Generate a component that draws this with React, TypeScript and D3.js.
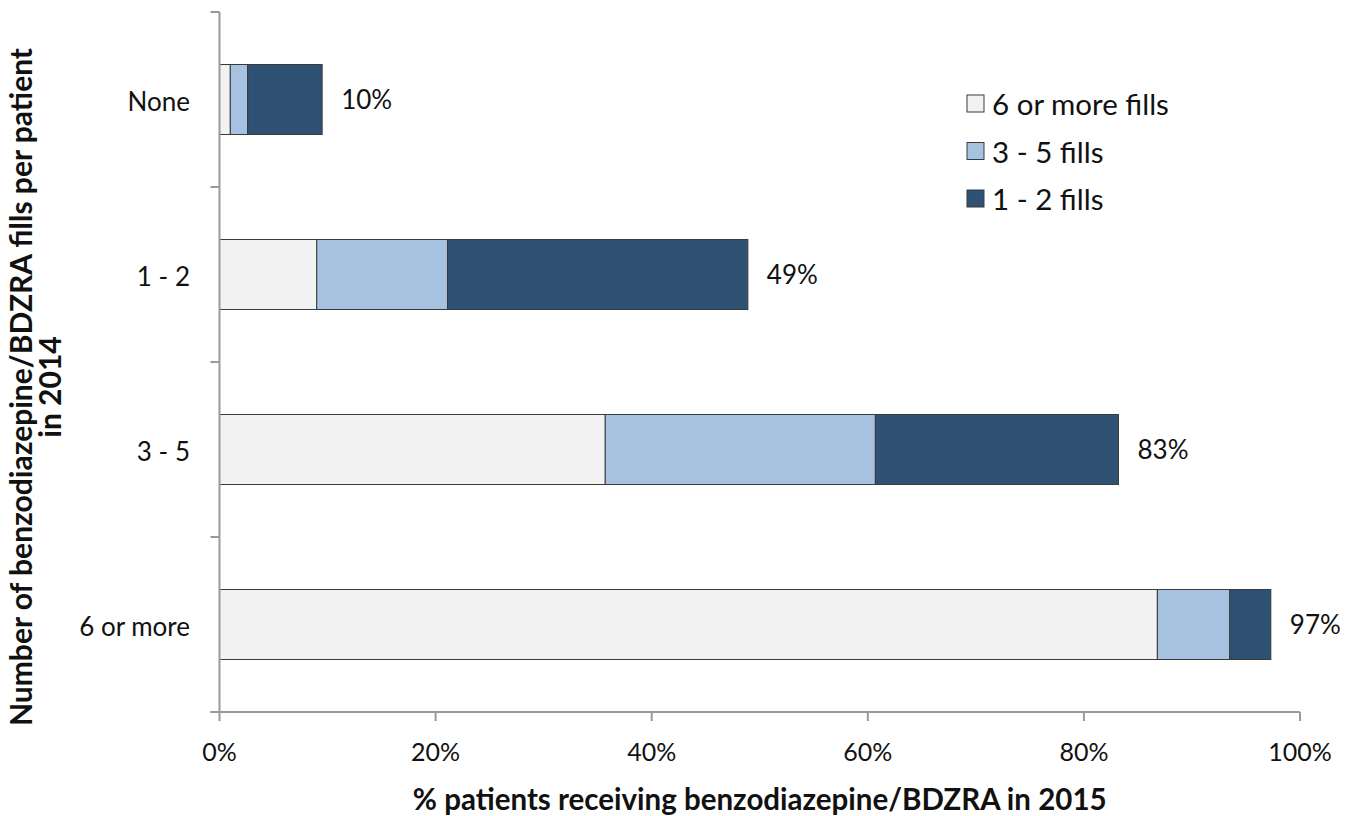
import { useEffect, useRef } from 'react'
import * as d3 from 'd3'

const categories = ['None', '1 - 2', '3 - 5', '6 or more']
const seriesNames = ['6 or more fills', '3 - 5 fills', '1 - 2 fills']
const sixPlus = [1.0, 9.0, 35.7, 86.8]
const threeToFive = [1.6, 12.1, 25.0, 6.7]
const oneToTwo = [6.9, 27.8, 22.5, 3.8]
const totalLabels = ['10%', '49%', '83%', '97%']
const xTicks = [0, 20, 40, 60, 80, 100]

const COLORS = ['#f2f2f2', '#a7c2e1', '#2f5173']
const FONT = 'Lato, "Open Sans", sans-serif'

export default function App() {
  const svgRef = useRef<SVGSVGElement | null>(null)

  useEffect(() => {
    const el = svgRef.current
    if (!el) return
    const svg = d3.select(el)
    svg.selectAll('*').remove()

    const left = 219.5
    const right = 1300
    const top = 12
    const bottom = 712

    const x = d3.scaleLinear().domain([0, 100]).range([left, right])
    const y = d3.scaleBand().domain(categories).range([top, bottom]).padding(0.6).paddingOuter(0.3)

    const rows = categories.map((c, i) => ({
      cat: c,
      vals: [sixPlus[i], threeToFive[i], oneToTwo[i]],
    }))

    // stacked bars
    rows.forEach((r, i) => {
      let acc = 0
      r.vals.forEach((v, k) => {
        svg
          .append('rect')
          .attr('x', x(acc))
          .attr('y', y(r.cat)!)
          .attr('width', x(acc + v) - x(acc))
          .attr('height', y.bandwidth())
          .attr('fill', COLORS[k])
          .attr('stroke', '#3a3a3a')
          .attr('stroke-width', 1)
        acc += v
      })
      svg
        .append('text')
        .attr('x', x(acc) + 19)
        .attr('y', y(r.cat)! + y.bandwidth() / 2)
        .attr('dy', '0.35em')
        .attr('font-family', FONT)
        .attr('font-size', 26)
        .attr('fill', '#111')
        .text(totalLabels[i])
    })

    const axisColor = '#999'
    // y axis line + ticks at band boundaries
    svg.append('line').attr('x1', left).attr('x2', left).attr('y1', top).attr('y2', bottom)
      .attr('stroke', axisColor).attr('stroke-width', 2)
    const step = (bottom - top) / categories.length
    d3.range(categories.length + 1).forEach((k) => {
      svg.append('line').attr('x1', left - 9).attr('x2', left).attr('y1', top + k * step).attr('y2', top + k * step)
        .attr('stroke', axisColor).attr('stroke-width', 2)
    })
    categories.forEach((c) => {
      svg.append('text')
        .attr('x', 190)
        .attr('y', y(c)! + y.bandwidth() / 2 + 2)
        .attr('dy', '0.35em')
        .attr('text-anchor', 'end')
        .attr('font-family', FONT)
        .attr('font-size', 26)
        .attr('fill', '#111')
        .text(c)
    })

    // x axis
    svg.append('line').attr('x1', left - 9).attr('x2', right).attr('y1', bottom).attr('y2', bottom)
      .attr('stroke', axisColor).attr('stroke-width', 2)
    xTicks.forEach((t) => {
      svg.append('line').attr('x1', x(t)).attr('x2', x(t)).attr('y1', bottom).attr('y2', bottom + 9)
        .attr('stroke', axisColor).attr('stroke-width', 2)
      svg.append('text')
        .attr('x', x(t))
        .attr('y', 752)
        .attr('dy', '0.35em')
        .attr('text-anchor', 'middle')
        .attr('font-family', FONT)
        .attr('font-size', 25)
        .attr('fill', '#111')
        .text(`${t}%`)
    })

    // axis titles
    svg.append('text')
      .attr('x', (left + right) / 2)
      .attr('y', 800)
      .attr('dy', '0.35em')
      .attr('text-anchor', 'middle')
      .attr('font-family', FONT)
      .attr('font-weight', 'bold')
      .attr('font-size', 29.5)
      .attr('fill', '#111')
      .text('% patients receiving benzodiazepine/BDZRA in 2015')

    const yt = svg.append('text')
      .attr('transform', 'translate(0,387) rotate(-90)')
      .attr('text-anchor', 'middle')
      .attr('font-family', FONT)
      .attr('font-weight', 'bold')
      .attr('font-size', 30)
      .attr('fill', '#111')
    yt.append('tspan').attr('x', 0).attr('y', 32).text('Number of benzodiazepine/BDZRA fills per patient')
    yt.append('tspan').attr('x', 0).attr('y', 61).text('in 2014')

    // legend
    seriesNames.forEach((s, k) => {
      const ly = 104 + k * 47.5
      svg.append('rect')
        .attr('x', 967)
        .attr('y', ly - 9)
        .attr('width', 17)
        .attr('height', 17)
        .attr('fill', COLORS[k])
        .attr('stroke', '#3a3a3a')
        .attr('stroke-width', 1)
      svg.append('text')
        .attr('x', 992)
        .attr('y', ly + 1)
        .attr('dy', '0.35em')
        .attr('font-family', FONT)
        .attr('font-size', 29.5)
        .attr('fill', '#111')
        .text(s)
    })
  }, [])

  return (
    <svg
      ref={svgRef}
      width={1363}
      height={816}
      style={{ display: 'block', position: 'absolute', left: 0, top: 0, background: '#fff' }}
    />
  )
}
